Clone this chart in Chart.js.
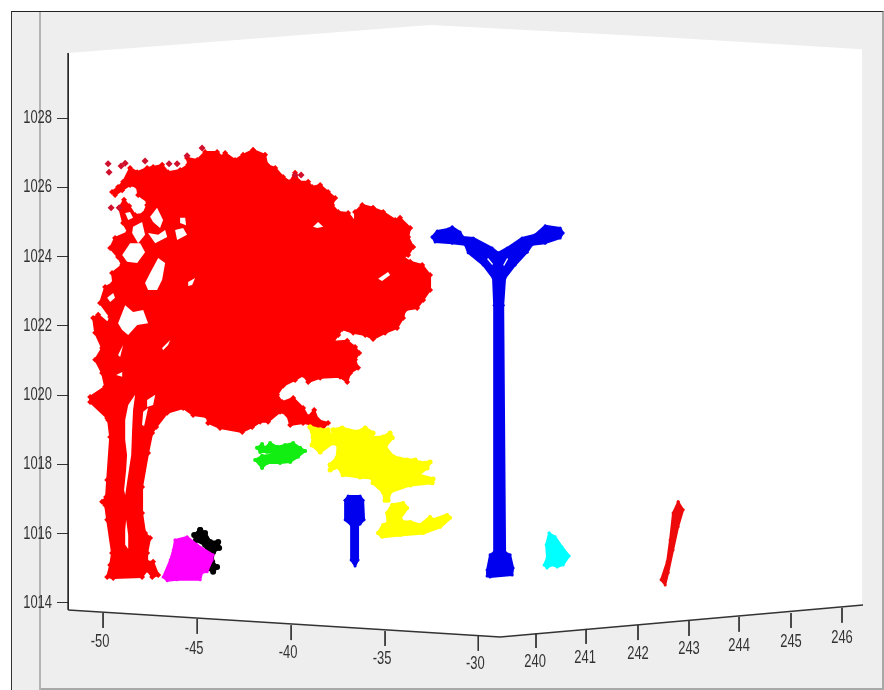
<!DOCTYPE html>
<html>
<head>
<meta charset="utf-8">
<style>
html,body{margin:0;padding:0;background:#fff;}
#wrap{position:relative;width:884px;height:690px;overflow:hidden;}
#panel{position:absolute;left:11px;top:11px;width:870px;height:676px;background:#eeeeee;border-top:1px solid #222;border-left:1px solid #333;border-right:2px solid #a8a8a8;border-bottom:2px solid #a8a8a8;}
#tail{position:absolute;left:11px;top:680px;width:29px;height:10px;background:#eeeeee;border-left:1px solid #333;}
#bar{position:absolute;left:39px;top:12px;width:2px;height:678px;background:#b4b4b4;}
canvas{position:absolute;left:0;top:0;display:block;}
</style>
</head>
<body>
<div id="wrap"><div id="panel"></div><div id="tail"></div><div id="bar"></div>
<canvas id="c" width="884" height="690"></canvas></div>
<script src="https://cdn.jsdelivr.net/npm/chart.js@4"></script>
<script>
const yTickValues = [1014,1016,1018,1020,1022,1024,1026,1028];
const xTickLabels = ['-50','-45','-40','-35','-30','240','241','242','243','244','245','246'];
const xTickProjected = [-50,-44.98,-39.97,-34.96,-29.99,-26.91,-24.24,-21.47,-18.75,-16.08,-13.31,-10.59];
const xTickBase = [1013.71,1013.54,1013.36,1013.19,1013.05,1013.13,1013.25,1013.36,1013.48,1013.60,1013.71,1013.86];
const xLabelProjected = [-50.16,-45.14,-40.13,-35.12,-30.15,-26.96,-24.29,-21.47,-18.75,-16.08,-13.31,-10.59];
const xLabelLevel = [1012.88,1012.68,1012.56,1012.39,1012.24,1012.30,1012.41,1012.53,1012.68,1012.76,1012.88,1012.99];

const backPlane = [[-51.86,1029.88],[-32.56,1030.69],[-20.29,1030.34],[-9.52,1029.99],[-9.52,1013.94],[-28.82,1013.02],[-51.86,1013.80]];
const leftAxisLine = [[-51.86,1029.88],[-51.86,1013.80]];
const bottomAxisLine = [[-51.86,1013.80],[-28.82,1013.02],[-9.47,1013.94]];

const treeOutline = [[-42.00,1027.08],[-41.36,1026.94],[-41.25,1026.65],[-40.82,1026.56],[-40.40,1026.30],[-40.02,1026.16],[-39.76,1026.42],[-39.54,1026.16],[-39.06,1026.16],[-38.85,1026.01],[-38.42,1026.07],[-38.00,1025.87],[-37.62,1025.69],[-37.78,1025.49],[-37.46,1025.29],[-36.93,1025.26],[-36.56,1025.00],[-36.56,1025.29],[-36.18,1025.49],[-35.60,1025.41],[-35.06,1025.29],[-34.42,1025.06],[-34.16,1025.12],[-33.62,1024.83],[-33.73,1024.57],[-33.46,1024.28],[-33.73,1024.05],[-34.00,1023.99],[-33.62,1023.85],[-32.98,1023.76],[-32.56,1023.47],[-32.56,1023.04],[-32.93,1022.75],[-33.25,1022.52],[-33.89,1022.46],[-34.00,1022.23],[-34.32,1021.94],[-34.96,1021.80],[-35.60,1021.62],[-36.02,1021.74],[-36.66,1021.80],[-37.25,1021.91],[-37.46,1021.74],[-37.73,1021.54],[-36.98,1021.57],[-36.56,1021.39],[-36.34,1021.22],[-36.56,1021.02],[-36.40,1020.79],[-36.82,1020.64],[-36.98,1020.38],[-37.36,1020.53],[-38.42,1020.50],[-39.06,1020.38],[-39.33,1020.58],[-39.76,1020.44],[-40.40,1020.27],[-40.72,1020.01],[-40.45,1019.80],[-39.86,1019.92],[-39.33,1019.63],[-39.06,1019.37],[-38.74,1019.57],[-38.53,1019.28],[-38.00,1019.20],[-38.32,1019.00],[-38.80,1019.14],[-39.33,1019.20],[-40.02,1019.14],[-40.18,1019.43],[-40.56,1019.52],[-41.20,1019.23],[-41.62,1019.23],[-42.05,1019.08],[-42.58,1018.94],[-43.76,1019.05],[-44.40,1019.20],[-44.45,1019.37],[-45.20,1019.43],[-45.73,1019.63],[-46.58,1019.49],[-47.17,1019.08],[-47.38,1018.91],[-47.60,1018.33],[-47.92,1017.35],[-47.92,1016.60],[-47.76,1016.02],[-47.49,1015.88],[-47.65,1015.44],[-47.65,1015.19],[-47.33,1015.19],[-47.06,1014.81],[-47.38,1014.75],[-47.65,1014.95],[-47.92,1014.75],[-49.46,1014.72],[-49.78,1014.75],[-49.62,1015.10],[-49.52,1015.44],[-49.78,1016.40],[-49.89,1016.83],[-50.05,1016.92],[-49.84,1017.06],[-49.78,1017.55],[-49.62,1018.79],[-49.73,1019.28],[-49.78,1019.34],[-50.69,1019.80],[-50.69,1019.95],[-49.89,1020.24],[-50.05,1020.64],[-50.42,1021.02],[-50.05,1021.36],[-50.42,1021.80],[-50.53,1022.23],[-50.26,1022.32],[-49.73,1022.08],[-49.62,1022.26],[-50.16,1022.66],[-49.89,1023.12],[-49.46,1023.24],[-49.52,1023.53],[-48.98,1023.76],[-49.20,1023.99],[-49.62,1024.25],[-49.36,1024.54],[-48.66,1024.71],[-48.93,1024.97],[-49.14,1025.41],[-48.88,1025.64],[-48.61,1025.46],[-48.29,1025.20],[-47.86,1025.23],[-47.65,1025.49],[-47.60,1025.58],[-48.13,1025.78],[-48.18,1026.01],[-48.56,1026.07],[-48.98,1025.92],[-49.36,1025.78],[-49.52,1025.87],[-49.20,1026.01],[-48.93,1026.16],[-48.56,1026.56],[-48.18,1026.44],[-47.65,1026.56],[-47.33,1026.59],[-46.85,1026.65],[-46.53,1026.44],[-45.89,1026.50],[-45.46,1026.65],[-45.52,1026.85],[-44.98,1026.79],[-44.56,1027.02],[-43.92,1027.02],[-43.65,1026.88],[-43.49,1026.99],[-42.96,1026.79],[-42.53,1026.94]];

const treeGaps = [
 [[-48.29,1020.01],[-48.40,1019.57],[-48.45,1019.00],[-48.50,1018.27],[-48.66,1017.70],[-48.82,1017.12],[-48.88,1017.26],[-48.77,1017.84],[-48.72,1018.27],[-48.82,1018.71],[-48.82,1019.28],[-48.66,1019.72]],
 [[-48.77,1016.40],[-48.66,1015.96],[-48.66,1015.56],[-48.82,1015.68],[-48.82,1016.11]],
 [[-47.86,1019.52],[-47.60,1019.63],[-47.81,1019.11],[-47.92,1019.14]],
 [[-47.65,1019.86],[-47.22,1020.01],[-47.33,1019.72],[-47.65,1019.66]],
 [[-48.82,1025.26],[-48.56,1025.29],[-48.40,1025.12],[-48.66,1025.06]],
 [[-48.40,1024.86],[-47.92,1025.00],[-47.76,1024.63],[-48.13,1024.39],[-48.45,1024.68]],
 [[-48.98,1024.05],[-48.56,1024.39],[-48.02,1024.39],[-47.76,1024.13],[-48.18,1023.82],[-48.72,1023.85]],
 [[-47.76,1023.24],[-47.49,1023.53],[-47.06,1023.96],[-46.69,1023.82],[-46.85,1023.33],[-47.12,1023.04],[-47.60,1023.04]],
 [[-47.49,1025.15],[-47.12,1025.41],[-46.80,1025.06],[-46.96,1024.83],[-47.33,1025.00]],
 [[-47.60,1024.68],[-47.06,1024.63],[-46.69,1024.77],[-46.58,1024.57],[-47.22,1024.39]],
 [[-46.16,1024.77],[-45.73,1024.83],[-45.52,1024.63],[-46.05,1024.48]],
 [[-45.89,1025.12],[-45.62,1025.12],[-45.57,1024.91],[-45.89,1024.97]],
 [[-45.46,1023.27],[-45.09,1023.38],[-45.25,1023.18],[-45.46,1023.15]],
 [[-49.20,1022.08],[-48.82,1022.60],[-48.40,1022.40],[-47.86,1022.46],[-47.60,1022.08],[-48.18,1022.03],[-48.66,1021.74],[-48.98,1021.88]],
 [[-49.78,1022.81],[-49.46,1022.95],[-49.36,1022.81],[-49.62,1022.69]],
 [[-49.20,1021.16],[-48.93,1021.45],[-49.09,1021.10]],
 [[-46.85,1021.36],[-46.42,1021.59],[-46.53,1021.45],[-46.80,1021.30]],
 [[-49.30,1020.58],[-48.98,1020.67],[-48.98,1020.53]],
 [[-38.80,1024.86],[-38.53,1025.00],[-38.26,1024.86],[-38.58,1024.83]],
 [[-35.33,1023.36],[-34.80,1023.56],[-34.69,1023.47],[-35.12,1023.30]]
];

const treeStrayPoints = [[-49.73,1026.68],[-49.68,1026.44],[-49.04,1026.62],[-48.82,1026.70],[-47.76,1026.76],[-46.48,1026.68],[-46.05,1026.68],[-49.57,1025.41],[-49.14,1025.41],[-45.52,1026.91],[-44.72,1027.14],[-39.76,1026.36],[-39.44,1026.36]];

const greenShrub = [[-41.78,1018.48],[-41.52,1018.59],[-41.36,1018.48],[-41.09,1018.62],[-40.72,1018.51],[-40.29,1018.56],[-39.86,1018.62],[-39.49,1018.48],[-39.22,1018.39],[-39.60,1018.22],[-40.02,1018.07],[-40.56,1018.04],[-41.25,1018.04],[-41.52,1017.90],[-41.89,1018.13],[-41.52,1018.25],[-41.09,1018.27],[-40.82,1018.36],[-41.25,1018.36],[-41.62,1018.36]];

const yellowUpper = [[-38.96,1019.08],[-38.42,1019.00],[-38.00,1019.00],[-37.78,1018.71],[-37.73,1019.00],[-37.25,1019.05],[-36.45,1018.94],[-36.02,1019.05],[-35.60,1018.91],[-35.65,1018.77],[-35.06,1018.79],[-34.69,1018.91],[-34.58,1018.77],[-34.96,1018.51],[-34.53,1018.22],[-33.78,1018.13],[-33.36,1018.13],[-33.09,1018.04],[-32.56,1018.07],[-32.72,1017.90],[-33.20,1017.70],[-32.40,1017.58],[-32.45,1017.47],[-33.62,1017.41],[-34.69,1017.21],[-34.80,1016.97],[-34.96,1016.97],[-35.06,1017.21],[-35.60,1017.47],[-35.65,1017.61],[-36.29,1017.64],[-37.20,1017.70],[-37.46,1017.93],[-37.89,1017.84],[-37.89,1017.99],[-37.52,1018.19],[-37.46,1018.56],[-37.78,1018.62],[-38.42,1018.36],[-38.85,1018.56],[-38.80,1018.79]];

const yellowLower = [[-35.33,1016.02],[-35.06,1016.25],[-34.80,1016.31],[-34.85,1016.60],[-34.58,1016.83],[-34.00,1016.89],[-33.78,1016.74],[-34.16,1016.46],[-34.00,1016.34],[-33.62,1016.34],[-33.09,1016.25],[-32.56,1016.48],[-32.40,1016.40],[-31.65,1016.54],[-31.49,1016.46],[-32.02,1016.20],[-32.93,1016.02],[-34.16,1015.96],[-35.12,1015.91]];

const smallPost = [[-37.09,1016.97],[-36.93,1017.09],[-36.29,1017.09],[-36.13,1016.97],[-36.08,1016.40],[-36.29,1016.28],[-36.40,1016.25],[-36.40,1015.24],[-36.56,1015.07],[-36.77,1015.24],[-36.77,1016.25],[-37.09,1016.40]];

const magentaObject = [[-46.16,1015.82],[-45.52,1015.91],[-44.98,1015.68],[-44.13,1015.39],[-44.18,1015.24],[-44.45,1014.90],[-44.72,1014.87],[-44.82,1014.67],[-46.05,1014.67],[-46.58,1014.64],[-46.80,1014.75],[-46.42,1015.24],[-46.26,1015.53]];

const blackObject = [[-44.82,1016.11],[-44.56,1016.02],[-44.29,1015.76],[-43.86,1015.76],[-43.81,1015.59],[-44.13,1015.47],[-44.18,1015.19],[-43.92,1015.04],[-44.13,1014.90],[-44.45,1015.01],[-44.29,1015.24],[-44.56,1015.68],[-45.04,1015.82],[-45.14,1015.96]];

const streetLamp = [[-32.45,1024.57],[-32.18,1024.74],[-31.60,1024.80],[-31.38,1024.86],[-30.96,1024.71],[-30.80,1024.57],[-30.26,1024.54],[-29.25,1024.25],[-28.93,1024.11],[-28.45,1024.25],[-27.65,1024.54],[-26.96,1024.63],[-26.42,1024.89],[-25.62,1024.83],[-25.46,1024.68],[-25.62,1024.54],[-26.42,1024.39],[-27.12,1024.34],[-27.38,1024.13],[-28.02,1023.76],[-28.56,1023.38],[-28.66,1022.60],[-28.56,1015.47],[-28.29,1015.39],[-28.13,1015.01],[-28.18,1014.81],[-29.36,1014.75],[-29.52,1014.78],[-29.52,1014.95],[-29.36,1015.39],[-29.14,1015.47],[-29.14,1022.60],[-29.20,1023.38],[-29.73,1023.76],[-30.53,1024.11],[-30.69,1024.34],[-31.38,1024.39],[-32.29,1024.42]];

const lampGaps = [
 [[-29.46,1023.96],[-29.20,1023.79],[-29.25,1023.76],[-29.52,1023.93]],
 [[-28.66,1023.76],[-28.45,1023.96],[-28.40,1023.93],[-28.61,1023.73]]
];

const cyanObject = [[-26.21,1016.02],[-25.89,1015.91],[-25.52,1015.62],[-25.14,1015.36],[-25.46,1015.10],[-25.78,1015.04],[-26.05,1015.10],[-26.32,1015.01],[-26.48,1015.10],[-26.32,1015.30],[-26.37,1015.68]];

const redPole = [[-19.33,1016.92],[-19.06,1016.69],[-19.33,1016.20],[-19.60,1015.53],[-19.86,1014.87],[-20.02,1014.52],[-20.24,1014.67],[-19.92,1015.19],[-19.76,1015.82],[-19.60,1016.60]];

function closed(a){ return a.concat([a[0]]); }
function blob(data,color,extra){
  return Object.assign({data:closed(data),showLine:true,fill:'shape',backgroundColor:color,borderColor:color,borderWidth:2,borderJoinStyle:'round',pointRadius:1.5,pointStyle:'circle',pointBackgroundColor:color,pointBorderWidth:0,tension:0,clip:false},extra||{});
}
function gap(data){ return blob(data,'#ffffff',{borderWidth:0,pointRadius:0}); }
function stroke(data,color,width){
  return {data:data,showLine:true,fill:false,borderColor:color,borderWidth:width,pointRadius:0,tension:0,clip:false};
}

const layers = [];
layers.push(gap(backPlane));
layers.push(blob(treeOutline,'#ff0000',{pointRadius:3,pointStyle:'rectRot'}));
treeGaps.forEach(g=>layers.push(gap(g)));
layers.push({data:treeStrayPoints,showLine:false,pointStyle:'rectRot',pointRadius:3.5,pointBackgroundColor:'#d0102c',pointBorderWidth:0,clip:false});
layers.push(blob(greenShrub,'#12ee12',{pointRadius:2}));
layers.push(blob(yellowUpper,'#ffff00',{pointRadius:2.5,borderWidth:3}));
layers.push(blob(yellowLower,'#ffff00',{pointRadius:2,borderWidth:3}));
layers.push(blob(smallPost,'#0000ee'));
layers.push(blob(blackObject,'#000000',{pointRadius:3,borderWidth:3}));
layers.push(blob(magentaObject,'#ff00ff'));
layers.push(blob(streetLamp,'#0000ee'));
lampGaps.forEach(g=>layers.push(gap(g)));
layers.push(blob(cyanObject,'#00ffff'));
layers.push(blob(redPole,'#ee0a0a'));
layers.push(stroke(leftAxisLine,'#222222',1));
layers.push(stroke(bottomAxisLine,'#333333',1.5));
xTickProjected.forEach((x,i)=>layers.push(stroke([[x,xTickBase[i]],[x,xTickBase[i]-0.43]],'#333333',1)));
layers.forEach((d,i)=>{d.order=layers.length-i;});

function narrowText(ctx,text,px,py,align){
  ctx.save();
  ctx.translate(px,py);
  ctx.scale(0.72,1);
  ctx.textAlign=align;
  ctx.textBaseline='middle';
  ctx.fillText(text,0,0);
  ctx.restore();
}
const axisLabels = {
  id:'axisLabels',
  afterDatasetsDraw(chart){
    const {ctx,scales:{x,y}} = chart;
    ctx.save();
    ctx.font = '18px "Liberation Sans",Arial,sans-serif';
    ctx.fillStyle = '#333333';
    xTickLabels.forEach((t,i)=>narrowText(ctx,t,x.getPixelForValue(xLabelProjected[i]),y.getPixelForValue(xLabelLevel[i]),'center'));
    yTickValues.forEach(v=>narrowText(ctx,String(v),52,y.getPixelForValue(v),'right'));
    ctx.restore();
  }
};

new Chart(document.getElementById('c'),{
  type:'scatter',
  data:{datasets:layers},
  plugins:[axisLabels],
  options:{
    responsive:false,animation:false,
    layout:{padding:0,autoPadding:false},
    plugins:{legend:{display:false},tooltip:{enabled:false}},
    scales:{
      x:{type:'linear',display:false,min:-51.87,max:-8.35},
      y:{type:'linear',min:1011.488,max:1031.41,
        afterFit(s){s.width=68;s.paddingTop=0;s.paddingBottom=0;s.paddingLeft=0;s.paddingRight=0;},
        afterBuildTicks(s){s.ticks=yTickValues.map(v=>({value:v}));},
        border:{display:false},
        grid:{drawOnChartArea:false,drawTicks:true,tickLength:11,color:'#333333',lineWidth:1},
        ticks:{display:false}
      }
    }
  }
});
</script>
</body>
</html>
